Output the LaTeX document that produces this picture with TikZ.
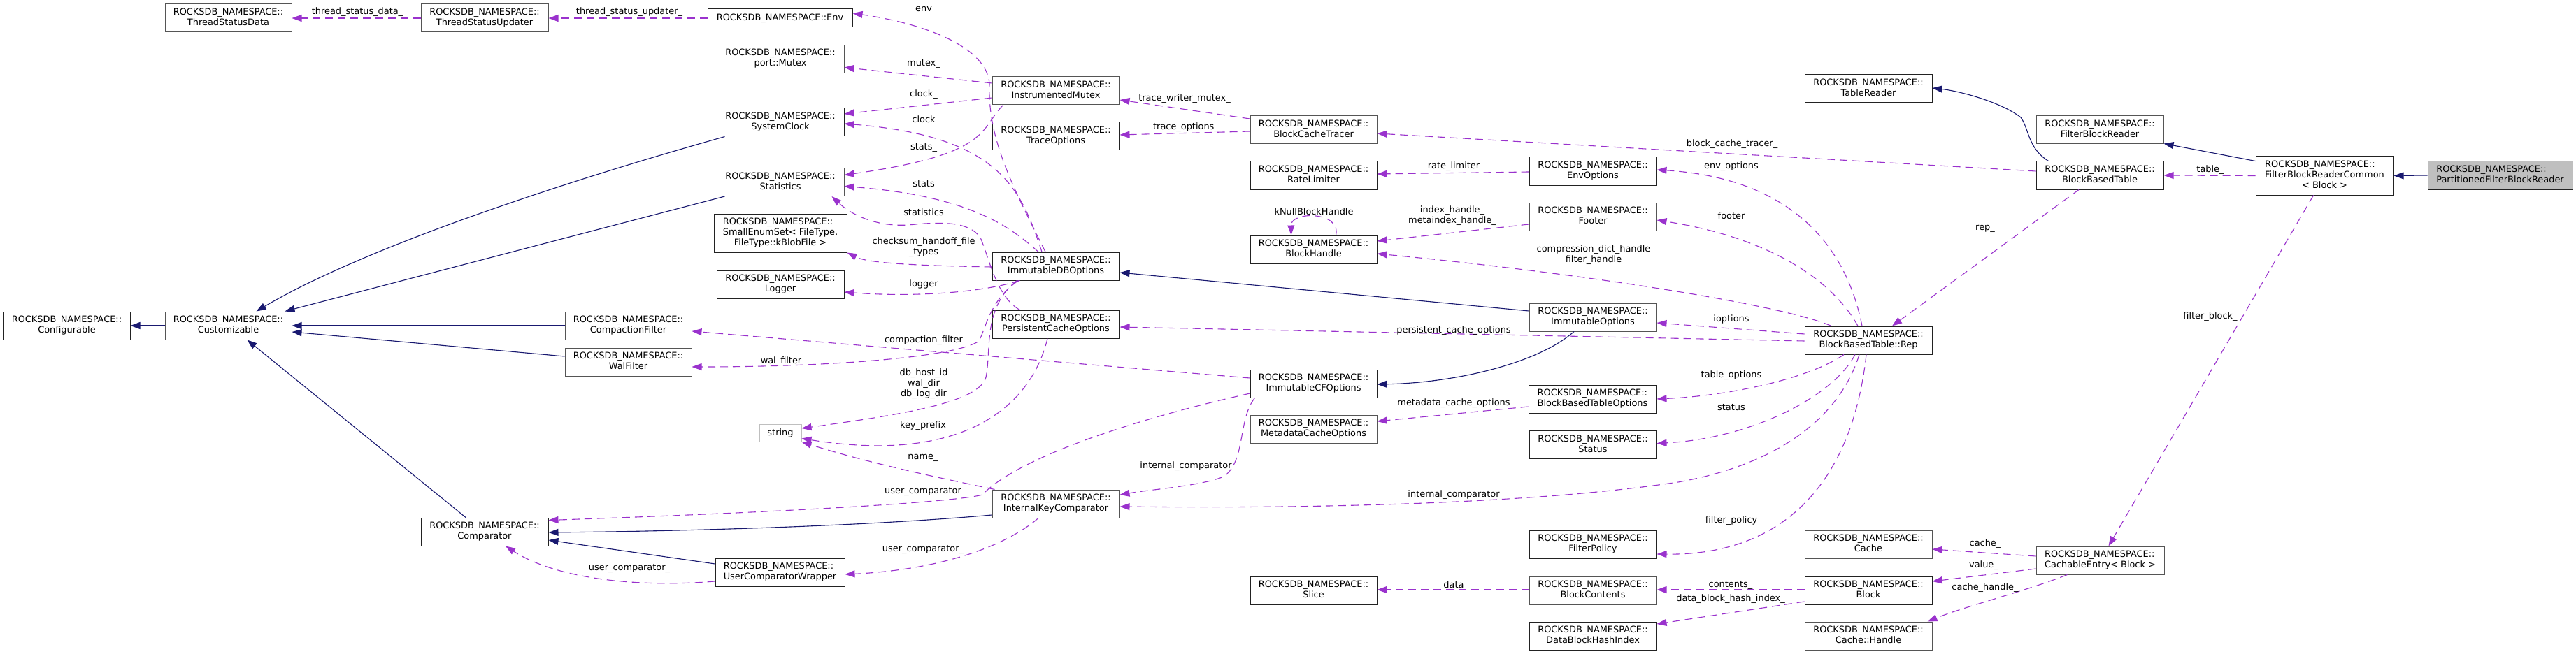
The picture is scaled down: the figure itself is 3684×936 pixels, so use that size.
\documentclass[tikz,border=0pt]{standalone}
\usepackage{fontspec}
\setmainfont{DejaVu Sans}
\usetikzlibrary{arrows.meta,calc}
\definecolor{inhc}{HTML}{191970}
\definecolor{usec}{HTML}{9A32CD}
\definecolor{bordg}{HTML}{555555}
\definecolor{bordk}{HTML}{222222}
\definecolor{gryf}{HTML}{BFBFBF}
\newcommand{\fsz}{\fontsize{12.9}{15}\selectfont}
\newcommand{\twol}[2]{\begin{tabular}{@{}l@{}}#1\\\multicolumn{1}{@{}c@{}}{#2}\end{tabular}}
\newcommand{\threel}[3]{\begin{tabular}{@{}l@{}}#1\\#2\\\multicolumn{1}{@{}c@{}}{#3}\end{tabular}}
\newcommand{\rns}{ROCKSDB\_NAMESPACE::}
\tikzset{
  cbox/.style={draw=bordg, line width=1pt, fill=white, inner sep=0pt, minimum width=182pt, minimum height=40pt, font=\fsz, text=black},
  kbox/.style={cbox, draw=bordk},
  inhedge/.style={draw=inhc, line width=1.1pt, -{Triangle[length=14pt,width=10pt]}},
  usedge/.style={draw=usec, line width=1.1pt, dash pattern=on 11pt off 7pt, -{Triangle[length=14pt,width=10pt]}},
  lbl/.style={font=\fsz, inner sep=0pt, align=center, text=black},
}
\begin{document}
\begin{tikzpicture}[x=1pt,y=-1pt]
\useasboundingbox (0,0) rectangle (3684,936);
\fill[white] (0,0) rectangle (3684,936);
% nodes
\node[cbox, minimum width=181pt] (tsd) at (326.5,26) {\twol{\rns}{ThreadStatusData}};
\node[kbox, minimum width=181pt] (cfg) at (95.5,466) {\twol{\rns}{Configurable}};
\node[cbox, minimum width=181pt] (cust) at (326.5,466) {\twol{\rns}{Customizable}};
\node[cbox] (tsu) at (693,26) {\twol{\rns}{ThreadStatusUpdater}};
\node[kbox, minimum width=207pt, minimum height=26pt] (env) at (1115.5,26) {ROCKSDB\_NAMESPACE::Env};
\node[cbox] (mutex) at (1116,84.5) {\twol{\rns}{port::Mutex}};
\node[kbox] (sysclk) at (1116,175) {\twol{\rns}{SystemClock}};
\node[cbox] (stats) at (1116,260.5) {\twol{\rns}{Statistics}};
\node[kbox, minimum width=190pt, minimum height=55pt] (smallenum) at (1116,333.5) {\threel{\rns}{SmallEnumSet< FileType,}{FileType::kBlobFile >}};
\node[kbox] (logger) at (1116,407) {\twol{\rns}{Logger}};
\node[cbox, minimum width=181pt] (cfilter) at (898.5,466) {\twol{\rns}{CompactionFilter}};
\node[cbox, minimum width=181pt] (wfilter) at (898.5,518) {\twol{\rns}{WalFilter}};
\node[cbox, draw=gryf, minimum width=60pt, minimum height=25pt] (string) at (1116,619.5) {string};
\node[kbox] (cmp) at (693,761) {\twol{\rns}{Comparator}};
\node[kbox, minimum width=185pt] (ucw) at (1115.5,819) {\twol{\rns}{UserComparatorWrapper}};
\node[cbox] (imutex) at (1510,130) {\twol{\rns}{InstrumentedMutex}};
\node[kbox] (topt) at (1510,195) {\twol{\rns}{TraceOptions}};
\node[kbox] (idbo) at (1510,381) {\twol{\rns}{ImmutableDBOptions}};
\node[kbox] (pco) at (1510,464) {\twol{\rns}{PersistentCacheOptions}};
\node[cbox] (ikc) at (1510,721) {\twol{\rns}{InternalKeyComparator}};
\node[cbox, minimum width=181pt] (bct) at (1878.5,186) {\twol{\rns}{BlockCacheTracer}};
\node[kbox, minimum width=181pt] (rl) at (1878.5,251) {\twol{\rns}{RateLimiter}};
\node[kbox, minimum width=181pt] (bh) at (1878.5,357) {\twol{\rns}{BlockHandle}};
\node[kbox, minimum width=181pt] (icfo) at (1878.5,549) {\twol{\rns}{ImmutableCFOptions}};
\node[cbox, minimum width=181pt] (mco) at (1878.5,614) {\twol{\rns}{MetadataCacheOptions}};
\node[kbox, minimum width=181pt] (slice) at (1878.5,845) {\twol{\rns}{Slice}};
\node[kbox] (envopt) at (2278,245) {\twol{\rns}{EnvOptions}};
\node[cbox] (footer) at (2278,310) {\twol{\rns}{Footer}};
\node[cbox] (iopt) at (2278,454) {\twol{\rns}{ImmutableOptions}};
\node[kbox, minimum width=183pt] (bbto) at (2277.5,571) {\twol{\rns}{BlockBasedTableOptions}};
\node[kbox] (status) at (2278,636.5) {\twol{\rns}{Status}};
\node[kbox] (fpol) at (2278,779) {\twol{\rns}{FilterPolicy}};
\node[cbox] (bcont) at (2278,845) {\twol{\rns}{BlockContents}};
\node[kbox] (dbhi) at (2278,910) {\twol{\rns}{DataBlockHashIndex}};
\node[kbox] (treader) at (2672,127) {\twol{\rns}{TableReader}};
\node[kbox] (rep) at (2672,487) {\twol{\rns}{BlockBasedTable::Rep}};
\node[cbox] (cache) at (2672,779) {\twol{\rns}{Cache}};
\node[kbox] (block) at (2672,845) {\twol{\rns}{Block}};
\node[cbox] (chandle) at (2672,910) {\twol{\rns}{Cache::Handle}};
\node[cbox] (fbr) at (3003,186) {\twol{\rns}{FilterBlockReader}};
\node[kbox] (bbt) at (3003,251) {\twol{\rns}{BlockBasedTable}};
\node[cbox, minimum width=183pt] (centry) at (3003.5,802) {\twol{\rns}{CachableEntry< Block >}};
\node[kbox, minimum width=197pt, minimum height=55pt] (fbrc) at (3324.5,251.5) {\threel{\rns}{FilterBlockReaderCommon}{< Block >}};
\node[kbox, fill=gryf, minimum width=207pt] (pfbr) at (3575.5,251) {\twol{\rns}{PartitionedFilterBlockReader}};
% inheritance
\draw[inhedge] (cust.west) -- (cfg.east);
\draw[inhedge] ($(sysclk.south west)+(12,0)$) .. controls (800,262) and (520,355) .. ($(cust.north)+(40,0)$);
\draw[inhedge] ($(stats.south west)+(12,0)$) -- ($(cust.north east)+(-10,0)$);
\draw[inhedge] (cfilter.west) -- (cust.east);
\draw[inhedge] ($(wfilter.west)+(0,-8)$) -- ($(cust.east)+(0,9)$);
\draw[inhedge] ($(cmp.north)+(-27,0)$) -- ($(cust.south)+(27,0)$);
\draw[inhedge] ($(iopt.west)+(0,-9)$) -- ($(idbo.east)+(0,9)$);
\draw[inhedge] ($(iopt.south)+(-27,0)$) .. controls (2200,520) and (2080,548) .. ($(icfo.east)+(0,1)$);
\draw[inhedge] ($(ikc.west)+(0,16)$) .. controls (1250,752) and (1000,760) .. ($(cmp.east)+(0,1)$);
\draw[inhedge] ($(ucw.west)+(0,-12)$) -- ($(cmp.east)+(0,12)$);
\draw[inhedge] ($(bbt.north west)+(18,0)$) .. controls (2900,212) and (2902,185) .. (2890,168) .. controls (2860,145) and (2800,130) .. ($(treader.east)+(0,-1)$);
\draw[inhedge] ($(fbrc.north west)+(0,7)$) -- ($(fbr.south east)+(0,-1)$);
\draw[inhedge] (pfbr.west) -- (fbrc.east);
% usage
\draw[usedge] (tsu.west) -- (tsd.east);
\draw[usedge] (env.west) -- (tsu.east);
\draw[usedge] ($(idbo.north)+(-15,0)$) .. controls (1450,270) and (1412,200) .. (1415,120) .. controls (1412,70) and (1330,35) .. ($(env.east)+(0,-7)$);
\draw[usedge] ($(idbo.north)+(-20,0)$) .. controls (1460,270) and (1430,195) .. ($(sysclk.east)+(0,2)$);
\draw[usedge] ($(imutex.west)+(0,10)$) -- ($(sysclk.east)+(0,-12)$);
\draw[usedge] ($(imutex.west)+(0,-11)$) -- ($(mutex.east)+(0,12)$);
\draw[usedge] ($(imutex.south west)+(16,0)$) .. controls (1400,185) and (1420,220) .. ($(stats.east)+(0,-10)$);
\draw[usedge] ($(idbo.north)+(-25,0)$) .. controls (1440,320) and (1380,280) .. ($(stats.east)+(0,6)$);
\draw[usedge] ($(pco.north west)+(40,0)$) .. controls (1425,425) and (1415,370) .. (1402,340) .. controls (1385,315) and (1340,318) .. (1299,322) .. controls (1250,325) and (1215,305) .. ($(stats.south east)+(-18,0)$);
\draw[usedge] ($(idbo.west)+(0,1)$) .. controls (1300,380) and (1240,376) .. (smallenum.south east);
\draw[usedge] ($(idbo.south west)+(40,0)$) .. controls (1400,420) and (1300,425) .. ($(logger.east)+(0,11)$);
\draw[usedge] ($(idbo.south west)+(38,0)$) .. controls (1415,430) and (1410,470) .. (1400,488) .. controls (1370,510) and (1200,525) .. ($(wfilter.east)+(0,7)$);
\draw[usedge] ($(idbo.south west)+(36,0)$) .. controls (1405,440) and (1418,500) .. (1410,540) .. controls (1400,575) and (1300,592) .. ($(string.east)+(0,-6.5)$);
\draw[usedge] ($(pco.south)+(-12,0)$) .. controls (1475,580) and (1380,665) .. ($(string.east)+(0,8)$);
\draw[usedge] ($(ikc.north west)+(4,0)$) .. controls (1350,685) and (1250,665) .. ($(string.east)+(0,13)$);
\draw[usedge] ($(icfo.west)+(0,14)$) .. controls (1600,605) and (1450,660) .. (1405,708) .. controls (1370,718) and (1150,732) .. ($(cmp.north east)+(0,4)$);
\draw[usedge] ($(icfo.south west)+(7,0)$) .. controls (1770,600) and (1782,660) .. (1750,682) .. controls (1720,695) and (1650,700) .. ($(ikc.east)+(0,-13)$);
\draw[usedge] ($(rep.south)+(-13,0)$) .. controls (2630,600) and (2540,665) .. (2400,690) .. controls (2200,720) and (1900,728) .. ($(ikc.east)+(0,4)$);
\draw[usedge] ($(rep.south)+(-3,0)$) .. controls (2650,680) and (2560,795) .. ($(fpol.east)+(0,14)$);
\draw[usedge] ($(rep.south)+(-19,0)$) .. controls (2620,570) and (2500,628) .. ($(status.east)+(0,-2)$);
\draw[usedge] ($(rep.south)+(-35,0)$) .. controls (2590,540) and (2480,566) .. (bbto.east);
\draw[usedge] ($(rep.north)+(-9,0)$) .. controls (2640,350) and (2560,255) .. ($(envopt.east)+(0,-2)$);
\draw[usedge] ($(rep.north)+(-15,0)$) .. controls (2620,400) and (2530,340) .. ($(footer.east)+(0,5)$);
\draw[usedge] ($(rep.north)+(-53,0)$) .. controls (2560,440) and (2300,395) .. ($(bh.east)+(0,6)$);
\draw[usedge] ($(rep.west)+(0,-9)$) -- ($(iopt.east)+(0,8)$);
\draw[usedge] ($(rep.west)+(0,1)$) -- ($(pco.east)+(0,4)$);
\draw[usedge] ($(bbt.west)+(0,-6)$) -- ($(bct.east)+(0,5)$);
\draw[usedge] ($(envopt.west)+(0,1)$) -- ($(rl.east)+(0,-2)$);
\draw[usedge] ($(footer.west)+(0,11)$) -- ($(bh.east)+(0,-12)$);
\draw[usedge] ($(bh.north)+(32,0)$) .. controls (1918,302) and (1846,302) .. ($(bh.north)+(-32,0)$);
\draw[usedge] ($(bct.west)+(0,-16)$) -- ($(imutex.east)+(0,13)$);
\draw[usedge] ($(bct.west)+(0,2)$) -- ($(topt.east)+(0,-2)$);
\draw[usedge] ($(icfo.west)+(0,-8)$) -- ($(cfilter.east)+(0,8)$);
\draw[usedge] ($(bbto.west)+(0,11)$) -- ($(mco.east)+(0,-11)$);
\draw[usedge] ($(bcont.west)+(0,-1)$) -- ($(slice.east)+(0,-1)$);
\draw[usedge] ($(block.west)+(0,-1)$) -- ($(bcont.east)+(0,-1)$);
\draw[usedge] ($(block.west)+(0,16)$) -- ($(dbhi.east)+(0,-17)$);
\draw[usedge] ($(bbt.south)+(-30,0)$) -- ($(rep.north)+(34,0)$);
\draw[usedge] (fbrc.west) -- (bbt.east);
\draw[usedge] ($(fbrc.south)+(-16,0)$) -- ($(centry.north)+(12,0)$);
\draw[usedge] ($(centry.west)+(0,-6)$) -- ($(cache.east)+(0,7)$);
\draw[usedge] ($(centry.west)+(0,12)$) -- ($(block.east)+(0,-13)$);
\draw[usedge] ($(centry.south)+(-47,0)$) .. controls (2900,845) and (2810,868) .. ($(chandle.north east)+(-7,0)$);
\draw[usedge] ($(ikc.south)+(-25,0)$) .. controls (1440,780) and (1350,815) .. ($(ucw.east)+(0,3)$);
\draw[usedge] ($(ucw.west)+(0,13)$) .. controls (900,842) and (790,825) .. ($(cmp.south)+(30,0)$);
% labels
\node[lbl] (l1) at (511,17) {thread\_status\_data\_};
\node[lbl] (l2) at (900,17) {thread\_status\_updater\_};
\node[lbl] (l3) at (1321,13) {env};
\node[lbl] (l4) at (1321,91) {mutex\_};
\node[lbl] (l5) at (1321,135) {clock\_};
\node[lbl] (l6) at (1321,171) {clock};
\node[lbl] (l7) at (1321,211) {stats\_};
\node[lbl] (l8) at (1321,263) {stats};
\node[lbl] (l9) at (1321,304) {statistics};
\node[lbl] (l10) at (1321,354) {checksum\_handoff\_file\\\_types};
\node[lbl] (l11) at (1321,407) {logger};
\node[lbl] (l12) at (1321,487) {compaction\_filter};
\node[lbl] (l13) at (1117,517) {wal\_filter};
\node[lbl] (l14) at (1321,549) {db\_host\_id\\wal\_dir\\db\_log\_dir};
\node[lbl] (l15) at (1320,609) {key\_prefix};
\node[lbl] (l16) at (1320,655) {name\_};
\node[lbl] (l17) at (1320,703) {user\_comparator};
\node[lbl] (l18) at (1320,786) {user\_comparator\_};
\node[lbl] (l19) at (900,813) {user\_comparator\_};
\node[lbl] (l20) at (1696,667) {internal\_comparator};
\node[lbl] (l21) at (1694,141) {trace\_writer\_mutex\_};
\node[lbl] (l22) at (1696,182) {trace\_options\_};
\node[lbl] (l23) at (2079,238) {rate\_limiter};
\node[lbl] (l24) at (1879,303) {kNullBlockHandle};
\node[lbl] (l25) at (2077,309) {index\_handle\_\\metaindex\_handle\_};
\node[lbl] (l26) at (2279,365) {compression\_dict\_handle\\filter\_handle};
\node[lbl] (l27) at (2079,473) {persistent\_cache\_options};
\node[lbl] (l28) at (2079,577) {metadata\_cache\_options};
\node[lbl] (l29) at (2079,708) {internal\_comparator};
\node[lbl] (l30) at (2079,837) {data};
\node[lbl] (l31) at (2477,206) {block\_cache\_tracer\_};
\node[lbl] (l32) at (2476,238) {env\_options};
\node[lbl] (l33) at (2476,309) {footer};
\node[lbl] (l34) at (2476,457) {ioptions};
\node[lbl] (l35) at (2476,537) {table\_options};
\node[lbl] (l36) at (2476,583) {status};
\node[lbl] (l37) at (2476,745) {filter\_policy};
\node[lbl] (l38) at (2475,837) {contents\_};
\node[lbl] (l39) at (2475,857) {data\_block\_hash\_index\_};
\node[lbl] (l40) at (2839,327) {rep\_};
\node[lbl] (l41) at (3161,243) {table\_};
\node[lbl] (l42) at (3161,453) {filter\_block\_};
\node[lbl] (l43) at (2839,778) {cache\_};
\node[lbl] (l44) at (2837,809) {value\_};
\node[lbl] (l45) at (2839,841) {cache\_handle\_};
\end{tikzpicture}
\end{document}
